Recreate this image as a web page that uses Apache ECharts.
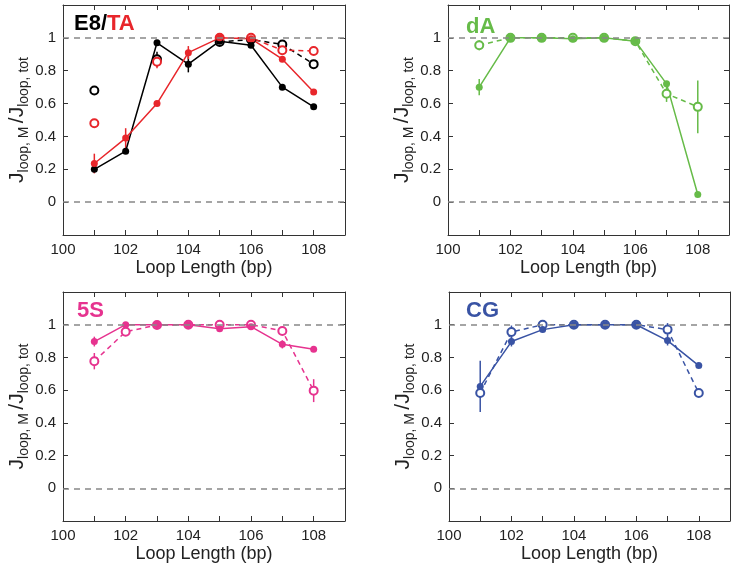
<!DOCTYPE html>
<html>
<head>
<meta charset="utf-8">
<script src="https://cdn.jsdelivr.net/npm/echarts@6/dist/echarts.min.js"></script>
<style>
  html, body { margin: 0; padding: 0; background: #fff; }
  #chart { width: 735px; height: 567px; }
</style>
</head>
<body>
<div id="chart"></div>
<script>
// loop lengths (bp) and tick labels
var loopLengths = [101, 102, 103, 104, 105, 106, 107, 108];
var xTickLabels = [100, 102, 104, 106, 108];
var yTickLabels = [0, 0.2, 0.4, 0.6, 0.8, 1];
var refLevels = [0, 1];

// E8 / TA panel
var e8Solid = [0.20, 0.31, 0.97, 0.84, 0.98, 0.955, 0.70, 0.58];
var e8SolidErr = [0.02, 0.01, 0.01, 0.05, 0.01, 0.01, 0.01, 0.01];
var e8Open = [0.68, null, 0.87, null, 0.975, 0.99, 0.96, 0.84];
var e8OpenErr = [0, null, 0.045, null, 0.01, 0.01, 0.01, 0.02];
var taSolid = [0.235, 0.39, 0.60, 0.91, 1.0, 0.995, 0.87, 0.67];
var taSolidErr = [0.06, 0.06, 0.01, 0.04, 0.01, 0.01, 0.01, 0.01];
var taOpen = [0.48, null, 0.855, null, 1.0, 1.0, 0.925, 0.92];
var taOpenErr = [0, null, 0.04, null, 0, 0, 0.01, 0.01];

// dA panel
var daSolid = [0.70, 1.0, 1.0, 0.995, 1.0, 0.98, 0.72, 0.047];
var daSolidErr = [0.05, 0.01, 0.01, 0.01, 0.01, 0.01, 0.01, 0.01];
var daOpen = [0.955, 1.0, 1.0, 1.0, 1.0, 0.98, 0.66, 0.58];
var daOpenErr = [0.03, 0, 0, 0, 0, 0, 0.05, 0.16];

// 5S panel
var s5Solid = [0.897, 1.0, 1.0, 1.0, 0.976, 0.988, 0.88, 0.85];
var s5SolidErr = [0.03, 0, 0, 0.01, 0.01, 0.01, 0.025, 0.01];
var s5Open = [0.777, 0.957, 0.998, 1.0, 1.0, 1.0, 0.962, 0.597];
var s5OpenErr = [0.05, 0.01, 0.01, 0, 0, 0, 0.01, 0.07];

// CG panel
var cgSolid = [0.623, 0.897, 0.97, 1.0, 1.0, 1.0, 0.903, 0.75];
var cgSolidErr = [0.157, 0.03, 0.01, 0, 0, 0.01, 0.03, 0.01];
var cgOpen = [0.583, 0.955, 1.0, 1.0, 1.0, 1.0, 0.97, 0.583];
var cgOpenErr = [0.03, 0.04, 0.01, 0, 0, 0, 0.04, 0.01];

var FONT = "'Liberation Sans', Arial, sans-serif";
var BLACK = '#000000', RED = '#e8262b', GREEN = '#66bb48', PINK = '#e6338f', BLUE = '#3953a4';

var grids = [
  { left: 63, top: 5, width: 282, height: 230 },
  { left: 448, top: 5, width: 281, height: 230 },
  { left: 63, top: 292, width: 282, height: 229 },
  { left: 449, top: 292, width: 281, height: 229 }
];

var panels = [
  { lines: [
      { vals: e8Open, err: e8OpenErr, color: BLACK, open: true },
      { vals: taOpen, err: taOpenErr, color: RED, open: true },
      { vals: e8Solid, err: e8SolidErr, color: BLACK, open: false },
      { vals: taSolid, err: taSolidErr, color: RED, open: false }
    ] },
  { lines: [
      { vals: daOpen, err: daOpenErr, color: GREEN, open: true },
      { vals: daSolid, err: daSolidErr, color: GREEN, open: false }
    ] },
  { lines: [
      { vals: s5Open, err: s5OpenErr, color: PINK, open: true },
      { vals: s5Solid, err: s5SolidErr, color: PINK, open: false }
    ] },
  { lines: [
      { vals: cgOpen, err: cgOpenErr, color: BLUE, open: true },
      { vals: cgSolid, err: cgSolidErr, color: BLUE, open: false }
    ] }
];

var xAxes = [], yAxes = [], series = [];
var boxLine = { show: true, onZero: false, lineStyle: { color: '#333', width: 1 } };
var tick = { show: true, inside: true, length: 5, lineStyle: { color: '#333', width: 1 } };

grids.forEach(function (g, i) {
  xAxes.push({
    gridIndex: i, type: 'value', min: 100, max: 109, interval: 1, position: 'bottom',
    axisLine: boxLine, axisTick: tick, splitLine: { show: false },
    axisLabel: {
      fontSize: 15, fontFamily: FONT, color: '#222', margin: 7,
      formatter: function (v) { return xTickLabels.indexOf(v) >= 0 ? String(v) : ''; }
    },
    name: 'Loop Length (bp)', nameLocation: 'middle', nameGap: 24,
    nameTextStyle: { fontSize: 18, fontFamily: FONT, color: '#222' }
  });
  yAxes.push({
    gridIndex: i, type: 'value', min: -0.2, max: 1.2, interval: 0.2, position: 'left',
    axisLine: boxLine, axisTick: tick, splitLine: { show: false },
    axisLabel: {
      fontSize: 15, fontFamily: FONT, color: '#222', margin: 7,
      formatter: function (v) {
        var r = +v.toFixed(1);
        return yTickLabels.indexOf(r) >= 0 ? String(r) : '';
      }
    },
    name: '{j|J}{s|loop, M} {j|/J}{s|loop, tot}', nameLocation: 'middle', nameRotate: 90, nameGap: 32,
    nameTextStyle: {
      fontFamily: FONT, color: '#222',
      rich: {
        j: { fontSize: 21, fontFamily: FONT, color: '#222' },
        s: { fontSize: 14, fontFamily: FONT, color: '#222', padding: [14, 0, 0, 0] }
      }
    }
  });
});
grids.forEach(function (g, i) {
  xAxes.push({
    gridIndex: i, type: 'value', min: 100, max: 109, interval: 1, position: 'top',
    axisLine: boxLine, axisTick: tick, axisLabel: { show: false }, splitLine: { show: false }
  });
  yAxes.push({
    gridIndex: i, type: 'value', min: -0.2, max: 1.2, interval: 0.2, position: 'right',
    axisLine: boxLine, axisTick: tick, axisLabel: { show: false }, splitLine: { show: false }
  });
});

panels.forEach(function (p, i) {
  // dashed reference lines at 0 and 1
  series.push({
    type: 'line', xAxisIndex: i, yAxisIndex: i, data: [], z: 1, silent: true,
    markLine: {
      silent: true, symbol: 'none', label: { show: false }, animation: false,
      lineStyle: { color: '#888888', type: [6, 5], width: 1.5 },
      data: refLevels.map(function (v) { return { yAxis: v }; })
    }
  });
  p.lines.forEach(function (l) {
    var errData = [];
    loopLengths.forEach(function (x, k) {
      if (l.vals[k] != null && l.err[k] > 0) errData.push([x, l.vals[k], l.err[k]]);
    });
    series.push({
      type: 'custom', xAxisIndex: i, yAxisIndex: i, z: 2, silent: true,
      data: errData,
      renderItem: function (params, api) {
        var x = api.value(0), y = api.value(1), e = api.value(2);
        var a = api.coord([x, y - e]), b = api.coord([x, y + e]);
        return {
          type: 'line',
          shape: { x1: a[0], y1: a[1], x2: b[0], y2: b[1] },
          style: { stroke: l.color, lineWidth: 1.5 }
        };
      }
    });
    series.push({
      type: 'line', xAxisIndex: i, yAxisIndex: i, z: 3, silent: true,
      data: loopLengths.map(function (x, k) { return [x, l.vals[k]]; }),
      connectNulls: false,
      symbol: l.open ? 'emptyCircle' : 'circle',
      symbolSize: l.open ? 8 : 7,
      showSymbol: true,
      itemStyle: { color: l.color, borderColor: l.color, borderWidth: l.open ? 1.3 : 0 },
      lineStyle: { color: l.color, width: 1.5, type: l.open ? [5, 4] : 'solid' }
    });
  });
});

var titleStyle = { fontSize: 22, fontWeight: 'bold', fontFamily: FONT };
var titles = [
  { text: '{k|E8/}{r|TA}', left: 69, top: 8, textStyle: { fontSize: 22, fontWeight: 'bold', fontFamily: FONT,
      rich: { k: { fontSize: 22, fontWeight: 'bold', fontFamily: FONT, color: BLACK },
              r: { fontSize: 22, fontWeight: 'bold', fontFamily: FONT, color: RED } } } },
  { text: 'dA', left: 461, top: 11, textStyle: Object.assign({ color: GREEN }, titleStyle) },
  { text: '5S', left: 72, top: 295, textStyle: Object.assign({ color: PINK }, titleStyle) },
  { text: 'CG', left: 461, top: 295, textStyle: Object.assign({ color: BLUE }, titleStyle) }
];

var chart = echarts.init(document.getElementById('chart'));
chart.setOption({
  animation: false,
  backgroundColor: '#fff',
  title: titles,
  grid: grids,
  xAxis: xAxes,
  yAxis: yAxes,
  series: series
});
</script>
</body>
</html>
